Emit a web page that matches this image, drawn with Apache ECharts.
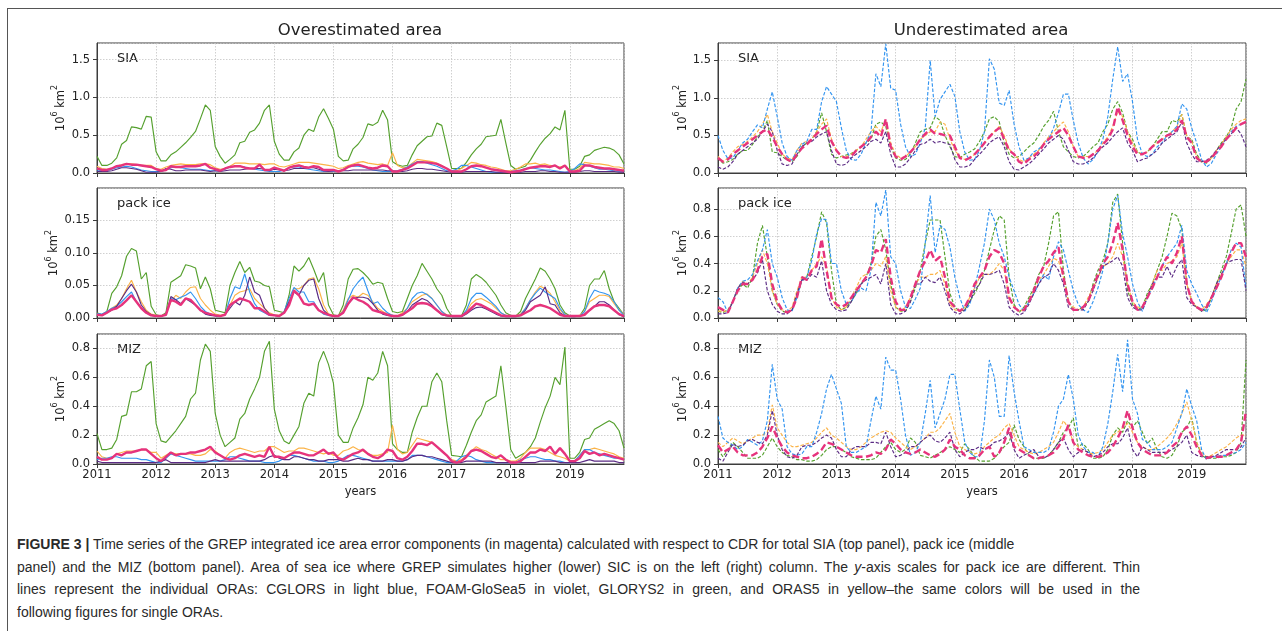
<!DOCTYPE html>
<html>
<head>
<meta charset="utf-8">
<title>GREP ice area error components</title>
<script src="https://cdn.jsdelivr.net/npm/echarts/dist/echarts.min.js"></script>
<style>
  html, body { margin: 0; padding: 0; background: #fff; }
  body { width: 1282px; height: 631px; position: relative; overflow: hidden; }
  #frame { position: absolute; left: 7px; top: 8px; width: 1300px; height: 640px;
           border-left: 1.5px solid #555; border-top: 1.5px solid #555; }
  #chart { position: absolute; left: 0; top: 0; width: 1282px; height: 500px; }
  #caption { position: absolute; left: 17px; top: 533px; color: #2a2a2a;
             font-family: "Liberation Sans", Arial, sans-serif;
             font-size: 14px; line-height: 22.7px; white-space: nowrap; }
  #caption .j { width: 1123px; text-align: justify; text-align-last: justify; white-space: nowrap; }
</style>
</head>
<body>
<div id="frame"></div>
<div id="chart"></div>
<div id="caption">
  <div><b>FIGURE 3 |</b> Time series of the GREP integrated ice area error components (in magenta) calculated with respect to CDR for total SIA (top panel), pack ice (middle</div>
  <div class="j">panel) and the MIZ (bottom panel). Area of sea ice where GREP simulates higher (lower) SIC is on the left (right) column. The <i>y</i>-axis scales for pack ice are different. Thin</div>
  <div class="j">lines represent the individual ORAs: CGLORS in light blue, FOAM-GloSea5 in violet, GLORYS2 in green, and ORAS5 in yellow–the same colors will be used in the</div>
  <div>following figures for single ORAs.</div>
</div>
<script>
// Monthly series, January 2011 – December 2019 (12 values per row = one year)
const startYear = 2011;
const yearLabels = [2011, 2012, 2013, 2014, 2015, 2016, 2017, 2018, 2019];
const columnTitles = ['Overestimated area', 'Underestimated area'];
const panelNames = ['SIA', 'pack ice', 'MIZ'];
const productNames = ['GLORYS2', 'ORAS5', 'CGLORS', 'FOAM-GloSea5', 'GREP'];

// ---------- Overestimated area: total SIA ----------
const overSIA_GLORYS2 = [
  0.22,0.10,0.10,0.13,0.20,0.38,0.43,0.61,0.60,0.58,0.75,0.74,
  0.28,0.16,0.16,0.24,0.28,0.34,0.40,0.47,0.55,0.72,0.90,0.83,
  0.35,0.22,0.13,0.18,0.24,0.40,0.42,0.54,0.57,0.66,0.83,0.90,
  0.42,0.25,0.17,0.17,0.28,0.33,0.50,0.58,0.55,0.74,0.85,0.72,
  0.58,0.22,0.16,0.17,0.32,0.38,0.47,0.65,0.63,0.67,0.83,0.70,
  0.15,0.11,0.09,0.10,0.24,0.36,0.42,0.48,0.49,0.66,0.63,0.35,
  0.06,0.06,0.06,0.14,0.24,0.32,0.38,0.48,0.49,0.50,0.71,0.40,
  0.10,0.05,0.07,0.09,0.17,0.28,0.38,0.46,0.52,0.61,0.57,0.83,
  0.05,0.05,0.09,0.22,0.24,0.30,0.32,0.34,0.33,0.30,0.24,0.12];
const overSIA_ORAS5 = [
  0.09,0.06,0.05,0.06,0.09,0.11,0.12,0.12,0.11,0.10,0.10,0.10,
  0.06,0.05,0.08,0.10,0.11,0.12,0.11,0.11,0.11,0.12,0.12,0.11,
  0.07,0.05,0.06,0.09,0.13,0.13,0.13,0.12,0.12,0.12,0.11,0.12,
  0.12,0.09,0.08,0.10,0.12,0.14,0.14,0.14,0.13,0.12,0.11,0.10,
  0.09,0.06,0.07,0.10,0.12,0.14,0.15,0.13,0.12,0.11,0.12,0.10,
  0.27,0.10,0.07,0.08,0.13,0.18,0.17,0.16,0.15,0.13,0.10,0.06,
  0.03,0.03,0.06,0.10,0.14,0.13,0.11,0.10,0.08,0.07,0.05,0.03,
  0.03,0.05,0.08,0.12,0.12,0.13,0.11,0.12,0.10,0.09,0.08,0.10,
  0.03,0.03,0.06,0.14,0.13,0.12,0.12,0.11,0.10,0.08,0.08,0.06];
const overSIA_CGLORS = [
  0.04,0.03,0.03,0.05,0.07,0.08,0.09,0.08,0.06,0.04,0.03,0.02,
  0.02,0.02,0.04,0.07,0.08,0.07,0.06,0.05,0.05,0.05,0.04,0.03,
  0.03,0.03,0.05,0.08,0.09,0.09,0.08,0.06,0.05,0.04,0.03,0.02,
  0.02,0.02,0.04,0.07,0.08,0.08,0.06,0.05,0.04,0.03,0.02,0.02,
  0.02,0.02,0.05,0.08,0.09,0.09,0.08,0.06,0.04,0.03,0.02,0.02,
  0.02,0.03,0.05,0.08,0.12,0.15,0.15,0.13,0.11,0.09,0.06,0.03,
  0.03,0.05,0.10,0.10,0.08,0.06,0.04,0.02,0.01,0.01,0.01,0.01,
  0.02,0.03,0.04,0.06,0.07,0.06,0.05,0.04,0.04,0.03,0.02,0.01,
  0.02,0.06,0.12,0.11,0.09,0.07,0.05,0.05,0.04,0.03,0.02,0.02];
const overSIA_FOAM = [
  0.02,0.02,0.02,0.03,0.05,0.07,0.07,0.06,0.05,0.03,0.01,0.01,
  0.01,0.02,0.06,0.05,0.03,0.03,0.04,0.04,0.04,0.04,0.03,0.02,
  0.03,0.02,0.03,0.04,0.04,0.04,0.05,0.06,0.06,0.06,0.05,0.03,
  0.05,0.04,0.03,0.04,0.06,0.06,0.06,0.07,0.07,0.05,0.03,0.02,
  0.03,0.03,0.03,0.03,0.04,0.04,0.04,0.04,0.04,0.04,0.04,0.03,
  0.03,0.02,0.02,0.03,0.05,0.06,0.06,0.05,0.05,0.04,0.03,0.02,
  0.01,0.01,0.01,0.02,0.02,0.02,0.02,0.02,0.02,0.01,0.01,0.01,
  0.01,0.01,0.01,0.02,0.02,0.02,0.03,0.03,0.02,0.02,0.01,0.01,
  0.01,0.01,0.02,0.03,0.03,0.02,0.02,0.02,0.02,0.02,0.01,0.01];
const overSIA_GREP = [
  0.06,0.04,0.04,0.06,0.09,0.10,0.12,0.11,0.11,0.10,0.09,0.08,
  0.05,0.03,0.04,0.09,0.08,0.08,0.09,0.09,0.09,0.10,0.12,0.07,
  0.05,0.03,0.06,0.08,0.09,0.09,0.07,0.06,0.06,0.11,0.04,0.04,
  0.07,0.05,0.03,0.07,0.09,0.10,0.08,0.07,0.09,0.08,0.04,0.04,
  0.04,0.02,0.04,0.08,0.10,0.11,0.09,0.07,0.06,0.07,0.10,0.09,
  0.02,0.02,0.04,0.06,0.10,0.14,0.14,0.14,0.13,0.12,0.09,0.06,
  0.02,0.02,0.02,0.05,0.09,0.10,0.09,0.07,0.05,0.04,0.03,0.02,
  0.01,0.02,0.03,0.05,0.07,0.08,0.09,0.09,0.08,0.10,0.06,0.10,
  0.02,0.02,0.03,0.10,0.10,0.08,0.07,0.06,0.06,0.05,0.04,0.03];

// ---------- Overestimated area: pack ice ----------
const overPack_GLORYS2 = [
  0.008,0.005,0.010,0.038,0.048,0.065,0.095,0.107,0.103,0.060,0.070,0.018,
  0.005,0.003,0.008,0.055,0.060,0.065,0.082,0.080,0.077,0.045,0.063,0.045,
  0.012,0.010,0.008,0.050,0.070,0.087,0.070,0.078,0.057,0.055,0.050,0.048,
  0.012,0.010,0.008,0.035,0.080,0.072,0.080,0.093,0.075,0.055,0.070,0.020,
  0.005,0.003,0.020,0.060,0.075,0.076,0.070,0.062,0.052,0.055,0.053,0.030,
  0.010,0.008,0.010,0.030,0.050,0.065,0.084,0.072,0.060,0.045,0.035,0.015,
  0.003,0.003,0.003,0.020,0.060,0.067,0.062,0.055,0.045,0.035,0.020,0.008,
  0.004,0.003,0.010,0.030,0.045,0.060,0.077,0.072,0.060,0.045,0.020,0.008,
  0.003,0.003,0.003,0.015,0.050,0.060,0.060,0.073,0.045,0.025,0.015,0.005];
const overPack_ORAS5 = [
  0.006,0.005,0.008,0.015,0.020,0.030,0.045,0.058,0.040,0.025,0.012,0.006,
  0.004,0.003,0.006,0.025,0.035,0.030,0.040,0.047,0.048,0.030,0.020,0.012,
  0.006,0.004,0.006,0.020,0.035,0.040,0.042,0.045,0.030,0.022,0.015,0.008,
  0.005,0.004,0.010,0.025,0.045,0.045,0.050,0.060,0.062,0.045,0.020,0.006,
  0.004,0.003,0.012,0.030,0.035,0.032,0.038,0.035,0.025,0.015,0.010,0.006,
  0.004,0.003,0.008,0.015,0.025,0.030,0.035,0.037,0.030,0.020,0.010,0.005,
  0.003,0.003,0.003,0.010,0.022,0.028,0.030,0.026,0.022,0.015,0.008,0.004,
  0.003,0.003,0.006,0.015,0.028,0.040,0.049,0.045,0.038,0.025,0.012,0.005,
  0.003,0.003,0.004,0.010,0.025,0.030,0.035,0.035,0.033,0.022,0.012,0.005];
const overPack_CGLORS = [
  0.007,0.006,0.010,0.015,0.018,0.025,0.033,0.040,0.025,0.015,0.008,0.004,
  0.003,0.003,0.005,0.030,0.028,0.032,0.035,0.040,0.030,0.018,0.010,0.006,
  0.004,0.003,0.005,0.030,0.048,0.045,0.068,0.040,0.022,0.012,0.008,0.004,
  0.004,0.003,0.010,0.030,0.047,0.040,0.040,0.025,0.025,0.012,0.006,0.004,
  0.003,0.003,0.010,0.028,0.045,0.055,0.063,0.042,0.022,0.025,0.015,0.008,
  0.004,0.003,0.005,0.015,0.030,0.038,0.040,0.036,0.030,0.020,0.010,0.004,
  0.003,0.003,0.003,0.012,0.030,0.038,0.038,0.032,0.025,0.018,0.008,0.004,
  0.003,0.003,0.005,0.015,0.028,0.038,0.046,0.040,0.035,0.030,0.015,0.005,
  0.003,0.003,0.003,0.010,0.030,0.043,0.040,0.038,0.035,0.025,0.012,0.004];
const overPack_FOAM = [
  0.005,0.004,0.008,0.012,0.018,0.030,0.042,0.052,0.040,0.020,0.010,0.005,
  0.003,0.003,0.005,0.033,0.028,0.022,0.030,0.025,0.020,0.012,0.006,0.004,
  0.003,0.003,0.005,0.015,0.025,0.020,0.035,0.063,0.040,0.035,0.015,0.006,
  0.004,0.003,0.008,0.025,0.040,0.035,0.050,0.058,0.060,0.030,0.012,0.005,
  0.003,0.003,0.008,0.022,0.030,0.032,0.032,0.030,0.022,0.012,0.006,0.004,
  0.003,0.003,0.004,0.010,0.020,0.025,0.030,0.027,0.020,0.012,0.005,0.003,
  0.002,0.002,0.002,0.006,0.012,0.016,0.017,0.014,0.010,0.006,0.003,0.002,
  0.002,0.002,0.004,0.012,0.025,0.030,0.035,0.048,0.022,0.020,0.008,0.003,
  0.002,0.002,0.003,0.006,0.012,0.018,0.025,0.025,0.020,0.012,0.005,0.002];
const overPack_GREP = [
  0.005,0.004,0.008,0.013,0.015,0.020,0.027,0.035,0.025,0.015,0.008,0.004,
  0.003,0.003,0.005,0.028,0.025,0.020,0.030,0.028,0.020,0.012,0.008,0.006,
  0.004,0.003,0.005,0.020,0.025,0.030,0.028,0.025,0.015,0.015,0.010,0.005,
  0.004,0.003,0.008,0.020,0.042,0.035,0.022,0.020,0.022,0.012,0.008,0.005,
  0.003,0.003,0.008,0.022,0.032,0.028,0.025,0.020,0.012,0.010,0.008,0.005,
  0.003,0.003,0.005,0.010,0.015,0.022,0.023,0.022,0.018,0.012,0.006,0.004,
  0.003,0.003,0.003,0.008,0.015,0.022,0.020,0.016,0.012,0.008,0.004,0.003,
  0.003,0.003,0.004,0.008,0.012,0.018,0.020,0.018,0.015,0.010,0.005,0.003,
  0.003,0.003,0.003,0.005,0.012,0.018,0.020,0.020,0.018,0.012,0.006,0.003];

// ---------- Overestimated area: MIZ ----------
const overMIZ_GLORYS2 = [
  0.21,0.10,0.10,0.11,0.17,0.33,0.34,0.50,0.50,0.52,0.68,0.71,
  0.28,0.16,0.15,0.19,0.23,0.28,0.33,0.45,0.49,0.72,0.83,0.78,
  0.35,0.20,0.12,0.15,0.18,0.31,0.35,0.45,0.52,0.60,0.78,0.85,
  0.38,0.23,0.16,0.14,0.20,0.26,0.42,0.49,0.47,0.70,0.78,0.69,
  0.56,0.20,0.15,0.15,0.25,0.32,0.41,0.60,0.58,0.63,0.78,0.68,
  0.14,0.10,0.08,0.08,0.22,0.32,0.40,0.40,0.57,0.63,0.57,0.30,
  0.06,0.055,0.05,0.13,0.22,0.30,0.34,0.43,0.45,0.47,0.68,0.40,
  0.10,0.04,0.06,0.08,0.12,0.18,0.29,0.39,0.47,0.60,0.55,0.81,
  0.04,0.04,0.08,0.17,0.18,0.24,0.26,0.28,0.30,0.28,0.23,0.11];
const overMIZ_ORAS5 = [
  0.09,0.05,0.04,0.04,0.07,0.08,0.09,0.09,0.09,0.10,0.10,0.08,
  0.08,0.04,0.06,0.08,0.07,0.07,0.07,0.07,0.06,0.06,0.07,0.10,
  0.09,0.06,0.04,0.08,0.10,0.11,0.10,0.09,0.08,0.09,0.09,0.12,
  0.12,0.10,0.08,0.09,0.09,0.11,0.11,0.10,0.09,0.08,0.07,0.08,
  0.06,0.06,0.09,0.10,0.12,0.10,0.09,0.07,0.06,0.06,0.07,0.08,
  0.27,0.10,0.07,0.08,0.13,0.18,0.17,0.16,0.15,0.12,0.09,0.06,
  0.03,0.02,0.03,0.06,0.09,0.12,0.10,0.09,0.07,0.05,0.03,0.03,
  0.02,0.02,0.04,0.08,0.11,0.11,0.11,0.10,0.08,0.06,0.05,0.04,
  0.02,0.02,0.06,0.10,0.10,0.11,0.10,0.09,0.08,0.07,0.05,0.04];
const overMIZ_CGLORS = [
  0.03,0.04,0.04,0.05,0.05,0.04,0.04,0.04,0.04,0.03,0.03,0.02,
  0.01,0.01,0.04,0.07,0.06,0.05,0.04,0.03,0.02,0.02,0.02,0.02,
  0.02,0.02,0.03,0.05,0.05,0.04,0.03,0.02,0.02,0.02,0.01,0.01,
  0.01,0.02,0.04,0.06,0.06,0.05,0.04,0.03,0.02,0.02,0.02,0.01,
  0.01,0.02,0.04,0.06,0.06,0.05,0.04,0.03,0.02,0.02,0.02,0.02,
  0.02,0.02,0.02,0.03,0.06,0.06,0.06,0.05,0.04,0.03,0.02,0.01,
  0.01,0.02,0.05,0.06,0.05,0.03,0.02,0.01,0.01,0.01,0.01,0.01,
  0.01,0.01,0.03,0.04,0.05,0.05,0.04,0.03,0.03,0.02,0.02,0.01,
  0.01,0.02,0.06,0.10,0.10,0.08,0.07,0.06,0.05,0.04,0.04,0.03];
const overMIZ_FOAM = [
  0.02,0.01,0.01,0.01,0.01,0.01,0.01,0.01,0.01,0.01,0.01,0.01,
  0.01,0.02,0.03,0.01,0.01,0.01,0.01,0.01,0.01,0.01,0.01,0.02,
  0.03,0.02,0.02,0.02,0.02,0.02,0.02,0.02,0.02,0.02,0.03,0.05,
  0.06,0.04,0.03,0.03,0.05,0.05,0.04,0.03,0.03,0.02,0.02,0.03,
  0.03,0.03,0.02,0.02,0.03,0.04,0.03,0.03,0.02,0.02,0.02,0.03,
  0.03,0.02,0.02,0.03,0.05,0.06,0.06,0.05,0.05,0.04,0.03,0.02,
  0.01,0.01,0.01,0.02,0.02,0.02,0.02,0.02,0.02,0.01,0.01,0.01,
  0.01,0.01,0.01,0.01,0.01,0.01,0.02,0.02,0.02,0.02,0.01,0.01,
  0.01,0.01,0.01,0.02,0.03,0.02,0.02,0.02,0.02,0.02,0.01,0.01];
const overMIZ_GREP = [
  0.05,0.03,0.03,0.04,0.07,0.06,0.08,0.08,0.09,0.10,0.10,0.07,
  0.04,0.02,0.05,0.08,0.06,0.07,0.07,0.08,0.08,0.09,0.10,0.12,
  0.08,0.06,0.04,0.03,0.04,0.06,0.07,0.06,0.05,0.06,0.05,0.12,
  0.05,0.05,0.04,0.06,0.08,0.08,0.07,0.06,0.06,0.08,0.10,0.07,
  0.08,0.04,0.03,0.05,0.07,0.08,0.10,0.07,0.05,0.04,0.06,0.10,
  0.09,0.04,0.03,0.05,0.09,0.14,0.14,0.13,0.15,0.12,0.09,0.06,
  0.02,0.01,0.02,0.05,0.09,0.10,0.09,0.07,0.05,0.04,0.06,0.03,
  0.01,0.01,0.02,0.05,0.08,0.08,0.10,0.09,0.12,0.07,0.11,0.07,
  0.02,0.02,0.04,0.09,0.07,0.08,0.06,0.07,0.06,0.05,0.04,0.03];

// ---------- Underestimated area: total SIA ----------
const underSIA_GLORYS2 = [
  0.20,0.13,0.15,0.18,0.25,0.30,0.30,0.38,0.48,0.55,0.70,0.28,
  0.27,0.22,0.17,0.15,0.22,0.35,0.40,0.45,0.55,0.80,0.55,0.25,
  0.20,0.22,0.24,0.26,0.30,0.35,0.40,0.45,0.65,0.68,0.62,0.35,
  0.20,0.17,0.18,0.25,0.40,0.55,0.58,0.60,0.75,0.70,0.50,0.35,
  0.22,0.20,0.25,0.28,0.32,0.42,0.55,0.72,0.75,0.68,0.40,0.25,
  0.20,0.22,0.28,0.35,0.40,0.50,0.62,0.70,0.82,0.55,0.35,0.28,
  0.22,0.20,0.22,0.28,0.35,0.40,0.55,0.65,0.85,0.95,0.80,0.55,
  0.45,0.28,0.25,0.28,0.35,0.45,0.55,0.55,0.70,0.68,0.78,0.48,
  0.45,0.25,0.15,0.13,0.20,0.30,0.40,0.48,0.60,0.85,0.95,1.25];
const underSIA_ORAS5 = [
  0.22,0.15,0.20,0.28,0.35,0.38,0.42,0.48,0.55,0.65,0.78,0.55,
  0.40,0.25,0.20,0.18,0.30,0.40,0.42,0.45,0.55,0.65,0.72,0.45,
  0.30,0.22,0.22,0.25,0.30,0.35,0.45,0.55,0.62,0.55,0.70,0.40,
  0.25,0.20,0.22,0.28,0.35,0.45,0.50,0.55,0.55,0.68,0.65,0.45,
  0.30,0.22,0.18,0.20,0.25,0.32,0.40,0.48,0.55,0.62,0.50,0.32,
  0.25,0.18,0.15,0.20,0.25,0.30,0.40,0.48,0.55,0.62,0.68,0.55,
  0.35,0.22,0.22,0.22,0.25,0.30,0.40,0.48,0.62,0.82,0.75,0.55,
  0.40,0.28,0.25,0.28,0.35,0.40,0.45,0.50,0.55,0.62,0.78,0.50,
  0.42,0.22,0.15,0.15,0.20,0.30,0.38,0.48,0.58,0.65,0.70,0.72];
const underSIA_CGLORS = [
  0.50,0.30,0.19,0.20,0.30,0.40,0.45,0.55,0.64,0.60,0.85,1.08,
  0.75,0.40,0.22,0.17,0.30,0.38,0.42,0.58,0.58,0.95,1.15,1.05,
  0.95,0.60,0.30,0.18,0.17,0.25,0.40,0.55,1.32,1.15,1.72,1.13,
  1.10,0.65,0.35,0.22,0.25,0.40,0.60,1.50,0.75,0.98,1.08,1.18,
  1.02,0.55,0.28,0.17,0.18,0.30,0.55,1.52,1.38,0.93,0.90,1.10,
  0.65,0.35,0.17,0.20,0.28,0.32,0.38,0.45,0.60,0.80,1.05,1.05,
  0.70,0.40,0.20,0.12,0.18,0.28,0.45,0.75,1.25,1.68,1.22,1.32,
  0.95,0.45,0.25,0.22,0.25,0.35,0.40,0.50,0.55,0.62,0.92,0.85,
  0.60,0.40,0.18,0.08,0.13,0.25,0.35,0.45,0.55,0.62,0.65,0.68];
const underSIA_FOAM = [
  0.08,0.05,0.08,0.15,0.25,0.30,0.35,0.40,0.45,0.55,0.65,0.55,
  0.30,0.12,0.10,0.12,0.25,0.35,0.40,0.42,0.48,0.52,0.55,0.30,
  0.12,0.10,0.12,0.20,0.25,0.30,0.35,0.42,0.45,0.40,0.55,0.25,
  0.08,0.08,0.12,0.20,0.30,0.38,0.40,0.45,0.40,0.42,0.40,0.38,
  0.18,0.08,0.08,0.10,0.18,0.25,0.32,0.40,0.45,0.48,0.35,0.15,
  0.05,0.04,0.08,0.12,0.18,0.25,0.32,0.40,0.45,0.50,0.45,0.30,
  0.15,0.12,0.12,0.15,0.20,0.28,0.35,0.40,0.48,0.55,0.60,0.40,
  0.30,0.15,0.18,0.20,0.25,0.30,0.40,0.45,0.50,0.55,0.68,0.40,
  0.25,0.15,0.15,0.17,0.22,0.30,0.38,0.45,0.52,0.60,0.52,0.35];
const underSIA_GREP = [
  0.20,0.15,0.18,0.25,0.30,0.35,0.40,0.45,0.50,0.55,0.58,0.48,
  0.35,0.25,0.18,0.15,0.25,0.33,0.38,0.45,0.52,0.58,0.63,0.42,
  0.30,0.22,0.20,0.22,0.30,0.35,0.40,0.48,0.55,0.48,0.72,0.35,
  0.22,0.18,0.22,0.28,0.35,0.45,0.52,0.58,0.52,0.52,0.50,0.50,
  0.35,0.20,0.17,0.20,0.25,0.32,0.40,0.48,0.55,0.60,0.45,0.30,
  0.25,0.15,0.12,0.18,0.22,0.28,0.38,0.45,0.50,0.55,0.60,0.50,
  0.35,0.22,0.20,0.20,0.25,0.30,0.38,0.45,0.58,0.88,0.70,0.50,
  0.35,0.25,0.25,0.28,0.35,0.40,0.45,0.50,0.52,0.58,0.70,0.48,
  0.40,0.20,0.15,0.15,0.20,0.28,0.35,0.45,0.52,0.60,0.65,0.68];

// ---------- Underestimated area: pack ice ----------
const underPack_GLORYS2 = [
  0.05,0.04,0.06,0.12,0.20,0.25,0.22,0.30,0.55,0.68,0.45,0.20,
  0.10,0.05,0.04,0.06,0.15,0.28,0.30,0.45,0.60,0.78,0.70,0.35,
  0.10,0.06,0.08,0.12,0.18,0.25,0.30,0.40,0.60,0.65,0.50,0.25,
  0.08,0.05,0.05,0.12,0.22,0.35,0.55,0.72,0.72,0.72,0.45,0.18,
  0.08,0.05,0.06,0.12,0.18,0.25,0.35,0.50,0.65,0.75,0.72,0.30,
  0.10,0.04,0.08,0.15,0.22,0.32,0.38,0.55,0.75,0.78,0.35,0.12,
  0.06,0.06,0.08,0.12,0.25,0.35,0.42,0.55,0.85,0.91,0.55,0.20,
  0.10,0.06,0.08,0.18,0.25,0.35,0.45,0.60,0.77,0.75,0.65,0.25,
  0.12,0.08,0.05,0.06,0.15,0.25,0.35,0.45,0.62,0.80,0.83,0.60];
const underPack_ORAS5 = [
  0.05,0.05,0.05,0.12,0.22,0.27,0.25,0.30,0.40,0.50,0.40,0.20,
  0.10,0.06,0.05,0.08,0.20,0.30,0.30,0.35,0.40,0.45,0.38,0.15,
  0.08,0.06,0.08,0.15,0.22,0.30,0.32,0.35,0.40,0.38,0.45,0.20,
  0.08,0.05,0.08,0.15,0.25,0.30,0.30,0.32,0.32,0.35,0.25,0.10,
  0.06,0.05,0.08,0.15,0.22,0.30,0.32,0.32,0.35,0.40,0.35,0.15,
  0.08,0.05,0.06,0.12,0.20,0.28,0.32,0.38,0.44,0.42,0.30,0.12,
  0.08,0.06,0.08,0.15,0.22,0.30,0.38,0.40,0.45,0.55,0.45,0.25,
  0.12,0.08,0.08,0.15,0.25,0.35,0.35,0.40,0.42,0.45,0.55,0.25,
  0.12,0.08,0.06,0.10,0.15,0.25,0.32,0.40,0.45,0.50,0.50,0.38];
const underPack_CGLORS = [
  0.15,0.12,0.04,0.12,0.22,0.27,0.28,0.32,0.42,0.50,0.65,0.40,
  0.30,0.15,0.06,0.05,0.15,0.28,0.30,0.42,0.62,0.73,0.72,0.40,
  0.40,0.20,0.10,0.12,0.18,0.22,0.20,0.35,0.85,0.75,0.94,0.45,
  0.40,0.20,0.08,0.07,0.14,0.22,0.55,0.90,0.48,0.68,0.65,0.52,
  0.30,0.15,0.05,0.10,0.22,0.38,0.55,0.80,0.72,0.55,0.45,0.30,
  0.20,0.10,0.05,0.12,0.18,0.25,0.32,0.28,0.45,0.56,0.50,0.35,
  0.20,0.10,0.06,0.04,0.12,0.22,0.35,0.55,0.80,0.90,0.62,0.45,
  0.25,0.12,0.05,0.15,0.22,0.30,0.38,0.45,0.50,0.55,0.68,0.35,
  0.25,0.18,0.10,0.04,0.12,0.22,0.30,0.40,0.50,0.55,0.52,0.22];
const underPack_FOAM = [
  0.03,0.03,0.04,0.12,0.22,0.26,0.25,0.28,0.33,0.43,0.20,0.10,
  0.05,0.03,0.03,0.06,0.18,0.28,0.28,0.32,0.30,0.42,0.20,0.10,
  0.06,0.05,0.06,0.12,0.20,0.25,0.28,0.30,0.32,0.25,0.40,0.10,
  0.03,0.03,0.05,0.12,0.25,0.25,0.30,0.27,0.26,0.30,0.20,0.08,
  0.04,0.03,0.06,0.12,0.20,0.25,0.32,0.32,0.33,0.35,0.25,0.08,
  0.04,0.02,0.04,0.10,0.18,0.25,0.30,0.32,0.40,0.35,0.25,0.08,
  0.06,0.06,0.06,0.12,0.20,0.30,0.38,0.40,0.42,0.45,0.38,0.15,
  0.08,0.06,0.06,0.15,0.25,0.30,0.30,0.38,0.30,0.38,0.43,0.15,
  0.10,0.08,0.05,0.08,0.15,0.25,0.32,0.40,0.42,0.43,0.43,0.20];
const underPack_GREP = [
  0.08,0.06,0.04,0.12,0.20,0.25,0.25,0.28,0.35,0.45,0.47,0.25,
  0.12,0.06,0.04,0.06,0.15,0.30,0.28,0.35,0.38,0.58,0.35,0.15,
  0.10,0.08,0.10,0.15,0.20,0.25,0.30,0.38,0.50,0.48,0.58,0.30,
  0.12,0.06,0.06,0.15,0.25,0.35,0.42,0.50,0.42,0.45,0.30,0.12,
  0.08,0.05,0.08,0.15,0.25,0.30,0.35,0.45,0.50,0.48,0.40,0.15,
  0.08,0.05,0.06,0.12,0.20,0.30,0.38,0.42,0.48,0.52,0.30,0.12,
  0.06,0.06,0.08,0.12,0.22,0.32,0.40,0.45,0.55,0.70,0.50,0.25,
  0.12,0.06,0.08,0.15,0.22,0.30,0.38,0.45,0.40,0.48,0.60,0.25,
  0.12,0.08,0.06,0.08,0.15,0.22,0.30,0.40,0.48,0.55,0.55,0.45];

// ---------- Underestimated area: MIZ ----------
const underMIZ_GLORYS2 = [
  0.10,0.05,0.10,0.15,0.12,0.08,0.04,0.04,0.04,0.06,0.12,0.18,
  0.12,0.08,0.06,0.05,0.03,0.03,0.02,0.02,0.03,0.06,0.10,0.12,
  0.12,0.10,0.08,0.05,0.04,0.03,0.03,0.03,0.04,0.08,0.12,0.15,
  0.10,0.08,0.10,0.18,0.15,0.06,0.05,0.04,0.06,0.08,0.10,0.12,
  0.10,0.08,0.14,0.10,0.05,0.02,0.02,0.02,0.04,0.08,0.12,0.15,
  0.27,0.17,0.12,0.06,0.04,0.04,0.04,0.06,0.10,0.15,0.22,0.25,
  0.32,0.12,0.14,0.10,0.04,0.04,0.05,0.10,0.20,0.25,0.22,0.30,
  0.25,0.30,0.22,0.14,0.18,0.10,0.05,0.04,0.06,0.12,0.22,0.25,
  0.32,0.15,0.06,0.04,0.04,0.04,0.05,0.05,0.06,0.08,0.15,0.72];
const underMIZ_ORAS5 = [
  0.15,0.12,0.15,0.18,0.16,0.14,0.16,0.18,0.20,0.20,0.22,0.41,
  0.25,0.20,0.15,0.12,0.12,0.13,0.14,0.15,0.18,0.22,0.25,0.20,
  0.18,0.15,0.12,0.10,0.10,0.12,0.15,0.18,0.20,0.22,0.23,0.22,
  0.18,0.15,0.12,0.10,0.12,0.15,0.18,0.22,0.22,0.25,0.30,0.35,
  0.22,0.12,0.10,0.08,0.07,0.08,0.12,0.15,0.18,0.20,0.25,0.28,
  0.20,0.12,0.10,0.08,0.07,0.08,0.10,0.12,0.15,0.22,0.30,0.25,
  0.15,0.12,0.10,0.08,0.07,0.08,0.10,0.15,0.20,0.22,0.25,0.28,
  0.22,0.15,0.12,0.10,0.10,0.12,0.15,0.18,0.22,0.28,0.35,0.43,
  0.30,0.15,0.08,0.05,0.06,0.08,0.10,0.12,0.15,0.18,0.20,0.20];
const underMIZ_CGLORS = [
  0.33,0.18,0.15,0.13,0.10,0.12,0.17,0.15,0.13,0.16,0.30,0.69,
  0.45,0.38,0.12,0.07,0.06,0.07,0.12,0.12,0.22,0.35,0.52,0.62,
  0.52,0.42,0.12,0.08,0.08,0.10,0.12,0.30,0.47,0.38,0.74,0.65,
  0.65,0.45,0.20,0.06,0.08,0.15,0.35,0.58,0.25,0.35,0.45,0.62,
  0.62,0.38,0.15,0.08,0.05,0.05,0.30,0.72,0.60,0.33,0.33,0.75,
  0.50,0.30,0.12,0.10,0.08,0.08,0.08,0.10,0.22,0.40,0.45,0.62,
  0.45,0.20,0.12,0.08,0.08,0.05,0.12,0.28,0.50,0.76,0.50,0.86,
  0.45,0.35,0.17,0.15,0.10,0.10,0.10,0.12,0.15,0.25,0.35,0.52,
  0.40,0.30,0.10,0.03,0.05,0.05,0.06,0.06,0.07,0.08,0.10,0.15];
const underMIZ_FOAM = [
  0.04,0.02,0.08,0.14,0.12,0.13,0.16,0.17,0.15,0.14,0.20,0.37,
  0.20,0.10,0.05,0.04,0.06,0.12,0.13,0.13,0.15,0.18,0.20,0.18,
  0.10,0.05,0.05,0.10,0.12,0.12,0.12,0.15,0.15,0.14,0.22,0.12,
  0.05,0.06,0.08,0.12,0.12,0.15,0.18,0.20,0.16,0.15,0.18,0.22,
  0.10,0.05,0.08,0.10,0.10,0.12,0.10,0.12,0.15,0.16,0.18,0.22,
  0.10,0.04,0.06,0.08,0.10,0.05,0.04,0.06,0.10,0.15,0.18,0.10,
  0.05,0.08,0.10,0.08,0.05,0.06,0.08,0.12,0.14,0.14,0.18,0.25,
  0.10,0.05,0.12,0.10,0.08,0.08,0.08,0.08,0.10,0.12,0.15,0.20,
  0.08,0.06,0.05,0.05,0.05,0.06,0.08,0.10,0.10,0.10,0.12,0.18];
const underMIZ_GREP = [
  0.13,0.08,0.10,0.12,0.08,0.06,0.06,0.06,0.08,0.12,0.18,0.26,
  0.18,0.12,0.08,0.06,0.05,0.04,0.04,0.05,0.07,0.10,0.15,0.14,
  0.12,0.10,0.08,0.06,0.05,0.05,0.05,0.06,0.08,0.07,0.10,0.17,
  0.14,0.10,0.08,0.07,0.08,0.10,0.08,0.06,0.05,0.07,0.10,0.17,
  0.12,0.10,0.06,0.04,0.04,0.06,0.10,0.12,0.05,0.08,0.15,0.25,
  0.12,0.10,0.08,0.06,0.04,0.04,0.05,0.06,0.08,0.12,0.18,0.27,
  0.15,0.10,0.08,0.06,0.05,0.05,0.06,0.08,0.12,0.18,0.25,0.37,
  0.25,0.15,0.10,0.08,0.06,0.06,0.06,0.08,0.12,0.15,0.22,0.26,
  0.20,0.12,0.06,0.04,0.05,0.05,0.05,0.06,0.08,0.10,0.15,0.37];

// ---------- drawing ----------
const COLORS = {
  GLORYS2: '#55a02e',
  ORAS5: '#fbb347',
  CGLORS: '#3294f0',
  FOAM: '#5b2b84',
  GREP: '#e6337c'
};
const FONT = 'DejaVu Sans';
const monthPositions = [];
for (let i = 0; i < 108; i++) monthPositions.push(startYear + i / 12);
const xMax = monthPositions[monthPositions.length - 1];

const panels = [
  // left column (solid lines)
  { col: 0, row: 0, yMax: 1.72, step: 0.5, dec: 1,
    sets: [overSIA_GLORYS2, overSIA_ORAS5, overSIA_CGLORS, overSIA_FOAM, overSIA_GREP] },
  { col: 0, row: 1, yMax: 0.2, step: 0.05, dec: 2,
    sets: [overPack_GLORYS2, overPack_ORAS5, overPack_CGLORS, overPack_FOAM, overPack_GREP] },
  { col: 0, row: 2, yMax: 0.9, step: 0.2, dec: 1,
    sets: [overMIZ_GLORYS2, overMIZ_ORAS5, overMIZ_CGLORS, overMIZ_FOAM, overMIZ_GREP] },
  // right column (dashed lines)
  { col: 1, row: 0, yMax: 1.73, step: 0.5, dec: 1,
    sets: [underSIA_GLORYS2, underSIA_ORAS5, underSIA_CGLORS, underSIA_FOAM, underSIA_GREP] },
  { col: 1, row: 1, yMax: 0.955, step: 0.2, dec: 1,
    sets: [underPack_GLORYS2, underPack_ORAS5, underPack_CGLORS, underPack_FOAM, underPack_GREP] },
  { col: 1, row: 2, yMax: 0.9, step: 0.2, dec: 1,
    sets: [underMIZ_GLORYS2, underMIZ_ORAS5, underMIZ_CGLORS, underMIZ_FOAM, underMIZ_GREP] }
];
const colLeft = [97, 718];
const colWidth = [527, 528];
const rowTop = [43, 188, 334];
const rowHeight = 130;
const seriesColors = [COLORS.GLORYS2, COLORS.ORAS5, COLORS.CGLORS, COLORS.FOAM, COLORS.GREP];

const grids = [], xAxes = [], yAxes = [], series = [], graphics = [];
const gridLine = { show: true, lineStyle: { color: '#c4c4c4', type: [1.5, 1.5], width: 0.8 } };
const unitName = {
  text: '{n|10}{s|6}{n| km}{s|2}',
  rich: {
    n: { fontFamily: FONT, fontSize: 11.5, color: '#222', lineHeight: 16, verticalAlign: 'bottom' },
    s: { fontFamily: FONT, fontSize: 8, color: '#222', lineHeight: 16, verticalAlign: 'top' }
  }
};

panels.forEach((p, k) => {
  grids.push({ left: colLeft[p.col], top: rowTop[p.row], width: colWidth[p.col], height: rowHeight,
               show: true, borderColor: '#3c3c3c', borderWidth: 1, containLabel: false });
  const bottom = p.row === 2;
  xAxes.push({
    type: 'value', gridIndex: k, min: startYear, max: xMax, interval: 1,
    axisLine: { show: true, onZero: false, lineStyle: { color: '#3c3c3c', width: 1 } },
    axisTick: { show: true, length: 4, lineStyle: { color: '#3c3c3c' } },
    axisLabel: { show: bottom, showMaxLabel: false, fontFamily: FONT, fontSize: 11.5, color: '#222', margin: 5,
                 formatter: v => yearLabels.includes(Math.round(v)) ? String(Math.round(v)) : '' },
    splitLine: gridLine,
    name: bottom ? 'years' : '', nameLocation: 'middle', nameGap: 22,
    nameTextStyle: { fontFamily: FONT, fontSize: 11.5, color: '#222' }
  });
  yAxes.push({
    type: 'value', gridIndex: k, min: 0, max: p.yMax, interval: p.step,
    axisLine: { show: true, lineStyle: { color: '#3c3c3c', width: 1 } },
    axisTick: { show: true, length: 4, lineStyle: { color: '#3c3c3c' } },
    axisLabel: { showMaxLabel: false, fontFamily: FONT, fontSize: 11.5, color: '#222', margin: 7,
                 formatter: v => v.toFixed(p.dec) },
    splitLine: gridLine,
    name: unitName.text, nameLocation: 'middle', nameRotate: 90, nameGap: p.col === 0 ? 30 : 29,
    nameTextStyle: { fontFamily: FONT, fontSize: 11.5, color: '#222', rich: unitName.rich }
  });
  p.sets.forEach((arr, s) => {
    const isGrep = s === 4;
    const dashed = p.col === 1;
    series.push({
      type: 'line', name: productNames[s], xAxisIndex: k, yAxisIndex: k,
      data: monthPositions.map((t, i) => [t, arr[i]]),
      showSymbol: false, symbol: 'none', z: isGrep ? 5 : 3,
      lineStyle: {
        color: seriesColors[s], width: isGrep ? 2.4 : 1.15,
        type: dashed ? (isGrep ? [7, 3.5] : [3.5, 1.8]) : 'solid'
      }
    });
  });
  graphics.push({ type: 'text', left: colLeft[p.col] + 20, top: rowTop[p.row] + 9,
    style: { text: panelNames[p.row], font: '13px "DejaVu Sans"', fill: '#222' } });
});

graphics.push({ type: 'text', x: 360, y: 31,
  style: { text: columnTitles[0], font: '16.5px "DejaVu Sans"', fill: '#222', textAlign: 'center', textVerticalAlign: 'middle' } });
graphics.push({ type: 'text', x: 981, y: 31,
  style: { text: columnTitles[1], font: '16.5px "DejaVu Sans"', fill: '#222', textAlign: 'center', textVerticalAlign: 'middle' } });

const chart = echarts.init(document.getElementById('chart'), null, { renderer: 'canvas' });
chart.setOption({
  animation: false,
  backgroundColor: 'transparent',
  grid: grids, xAxis: xAxes, yAxis: yAxes, series: series,
  graphic: graphics
});
</script>
</body>
</html>
